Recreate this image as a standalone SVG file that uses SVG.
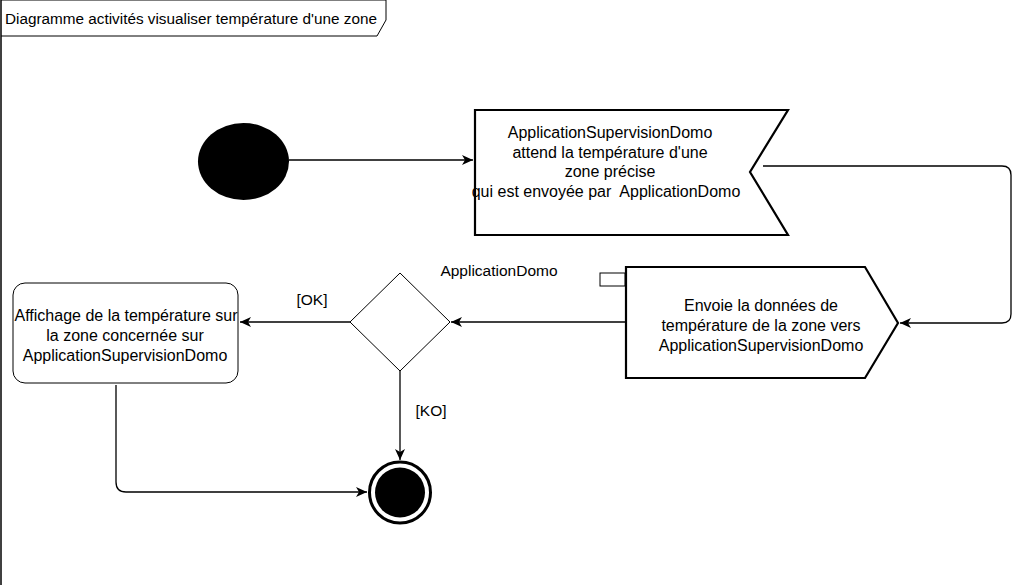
<svg xmlns="http://www.w3.org/2000/svg" width="1036" height="585" viewBox="0 0 1036 585">
<defs>
<style>
text{font-family:"Liberation Sans",Arial,sans-serif;font-size:16px;fill:#000;text-anchor:middle}
.title{font-size:15.3px;text-anchor:start}
.lbl{font-size:15.5px}
.conn{fill:none;stroke:#000;stroke-width:1.3}
.thick{fill:#fff;stroke:#000;stroke-width:2.2}
.thin{fill:#fff;stroke:#000;stroke-width:1}
</style>
<marker id="arr" markerWidth="12" markerHeight="10" viewBox="0 0 12 10" refX="11" refY="5" orient="auto" markerUnits="userSpaceOnUse">
<path d="M0,0 L11,5 L0,10 L3,5 Z" fill="#000"/>
</marker>
</defs>
<rect width="1036" height="585" fill="#fff"/>
<g id="frame">
<line x1="1" y1="0" x2="1" y2="585" stroke="#000" stroke-width="1.5"/>
<path d="M1,0 L386,0 L386,20 L377,36 L1,36" fill="none" stroke="#000" stroke-width="1"/>
<text class="title" x="5" y="24">Diagramme activités visualiser température d'une zone</text>
</g>
<g id="connectors">
<line class="conn" x1="289" y1="160" x2="473" y2="160" marker-end="url(#arr)"/>
<path class="conn" d="M763,166 L1002,166 Q1011,166 1011,175 L1011,314 Q1011,323 1002,323 L900,323" marker-end="url(#arr)"/>
<line class="conn" x1="626" y1="322" x2="451" y2="322" marker-end="url(#arr)"/>
<line class="conn" x1="350" y1="322" x2="240" y2="322" marker-end="url(#arr)"/>
<line class="conn" x1="400" y1="371" x2="400" y2="460" marker-end="url(#arr)"/>
<path class="conn" d="M116,385 L116,482 Q116,492 126,492 L367,492" marker-end="url(#arr)"/>
<text class="lbl" x="312" y="305">[OK]</text>
<text class="lbl" x="431" y="416">[KO]</text>
</g>
<g id="start">
<ellipse cx="243.5" cy="161.5" rx="45.5" ry="38.5" fill="#000"/>
</g>
<g id="accept">
<path class="thick" d="M475,110 L788,110 L750,172 L788,235 L475,235 Z"/>
<text x="610" y="138">ApplicationSupervisionDomo</text>
<text x="610" y="157.5">attend la température d'une</text>
<text x="610" y="177">zone précise</text>
<text x="606" y="196.5" xml:space="preserve">qui est envoyée par  ApplicationDomo</text>
</g>
<g id="send">
<rect x="600" y="273" width="25" height="13" fill="#fff" stroke="#000" stroke-width="1"/>
<path class="thick" d="M626,267 L865,267 L898,323 L865,378 L626,378 Z"/>
<text x="761" y="311">Envoie la données de</text>
<text x="761" y="331">température de la zone vers</text>
<text x="761" y="351">ApplicationSupervisionDomo</text>
<text class="lbl" x="499" y="276">ApplicationDomo</text>
</g>
<g id="decision">
<path class="thin" d="M400,273 L450,322 L400,371 L350,322 Z"/>
</g>
<g id="display">
<rect class="thin" x="13" y="283" width="225" height="100" rx="12" ry="12"/>
<text x="126" y="321">Affichage de la température sur</text>
<text x="125" y="341">la zone concernée sur</text>
<text x="125" y="361">ApplicationSupervisionDomo</text>
</g>
<g id="end">
<circle cx="400" cy="492.5" r="30.5" fill="#fff" stroke="#000" stroke-width="3"/>
<circle cx="400" cy="492.5" r="25" fill="#000"/>
</g>
</svg>
